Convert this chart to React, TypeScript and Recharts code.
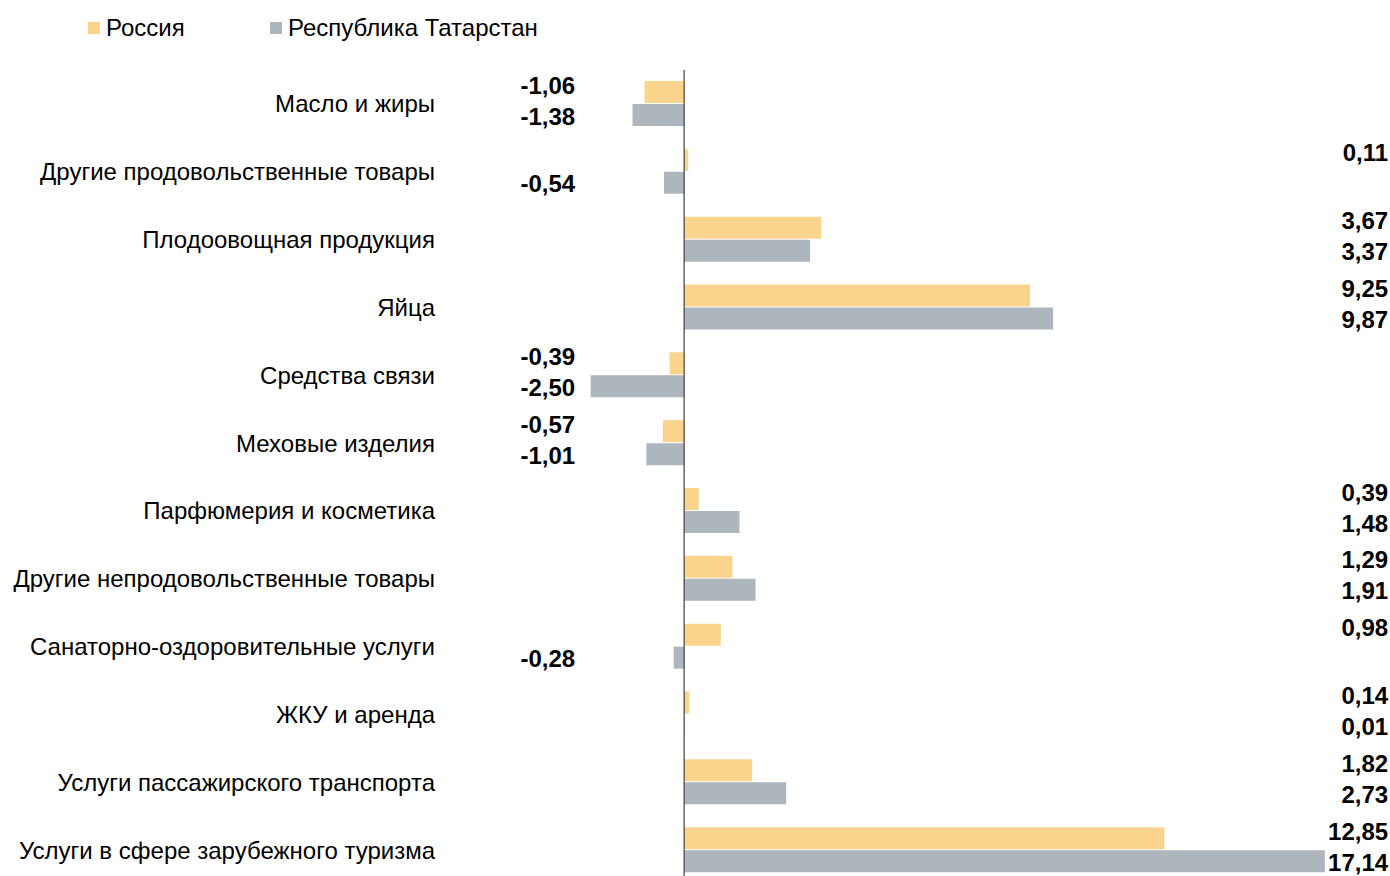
import { BarChart, Bar, XAxis, YAxis, ReferenceLine, LabelList } from 'recharts';

// категории сверху вниз
const categories = [
  'Масло и жиры',
  'Другие продовольственные товары',
  'Плодоовощная продукция',
  'Яйца',
  'Средства связи',
  'Меховые изделия',
  'Парфюмерия и косметика',
  'Другие непродовольственные товары',
  'Санаторно-оздоровительные услуги',
  'ЖКУ и аренда',
  'Услуги пассажирского транспорта',
  'Услуги в сфере зарубежного туризма',
];

const russia = [-1.06, 0.11, 3.67, 9.25, -0.39, -0.57, 0.39, 1.29, 0.98, 0.14, 1.82, 12.85];
const tatarstan = [-1.38, -0.54, 3.37, 9.87, -2.5, -1.01, 1.48, 1.91, -0.28, 0.01, 2.73, 17.14];

const xDomain = [-3, 18];

const COLOR_RU = '#fad38d';
const COLOR_RT = '#adb5bd';
const FONT = '"Liberation Sans", Arial, sans-serif';

const data = categories.map((name, i) => ({ name, ru: russia[i], rt: tatarstan[i] }));

const fmt = (v: number) => v.toFixed(2).replace('.', ',');

// подписи значений: отрицательные — колонкой слева от оси, положительные — справа
const makeLabel = (dy: number) => (props: any) => {
  const { x, y, width, height, value } = props;
  const left = Math.min(x, x + width);
  const right = Math.max(x, x + width);
  const zero = value < 0 ? right : left;
  const tx = value < 0 ? zero - 109 : zero + 704;
  return (
    <text
      x={tx}
      y={y + height / 2 + dy}
      textAnchor="end"
      dominantBaseline="central"
      fontFamily={FONT}
      fontSize={24}
      fontWeight="bold"
      fill="#000"
    >
      {fmt(Number(value))}
    </text>
  );
};

const legendItems = [
  { label: 'Россия', color: COLOR_RU, w: 182 },
  { label: 'Республика Татарстан', color: COLOR_RT, w: 300 },
];

export default function App() {
  return (
    <div style={{ position: 'fixed', left: 0, top: 0, width: 1390, height: 876, overflow: 'hidden', background: '#fff' }}>
      <div
        style={{
          position: 'absolute',
          left: 88,
          top: 14,
          display: 'flex',
          fontFamily: FONT,
          fontSize: 24,
          color: '#000',
          lineHeight: '28px',
        }}
      >
        {legendItems.map((it) => (
          <div key={it.label} style={{ display: 'flex', alignItems: 'center', width: it.w }}>
            <span style={{ width: 12, height: 12, background: it.color, marginRight: 6, display: 'inline-block' }} />
            {it.label}
          </div>
        ))}
      </div>
      <BarChart
        width={1390}
        height={884}
        data={data}
        layout="vertical"
        margin={{ top: 70, right: 33, left: 0, bottom: 0 }}
        barGap={1}
        barSize={22}
      >
        <XAxis type="number" domain={xDomain} hide />
        <YAxis
          type="category"
          dataKey="name"
          width={572}
          axisLine={false}
          tickLine={false}
          tickMargin={131}
          interval={0}
          tick={{ fill: '#000', fontSize: 24, fontFamily: FONT }}
        />
        <Bar dataKey="ru" name="Россия" fill={COLOR_RU} isAnimationActive={false}>
          <LabelList dataKey="ru" content={makeLabel(-7)} />
        </Bar>
        <Bar dataKey="rt" name="Республика Татарстан" fill={COLOR_RT} isAnimationActive={false}>
          <LabelList dataKey="rt" content={makeLabel(1)} />
        </Bar>
        <ReferenceLine x={0} stroke="#404040" strokeWidth={1.2} />
      </BarChart>
    </div>
  );
}
